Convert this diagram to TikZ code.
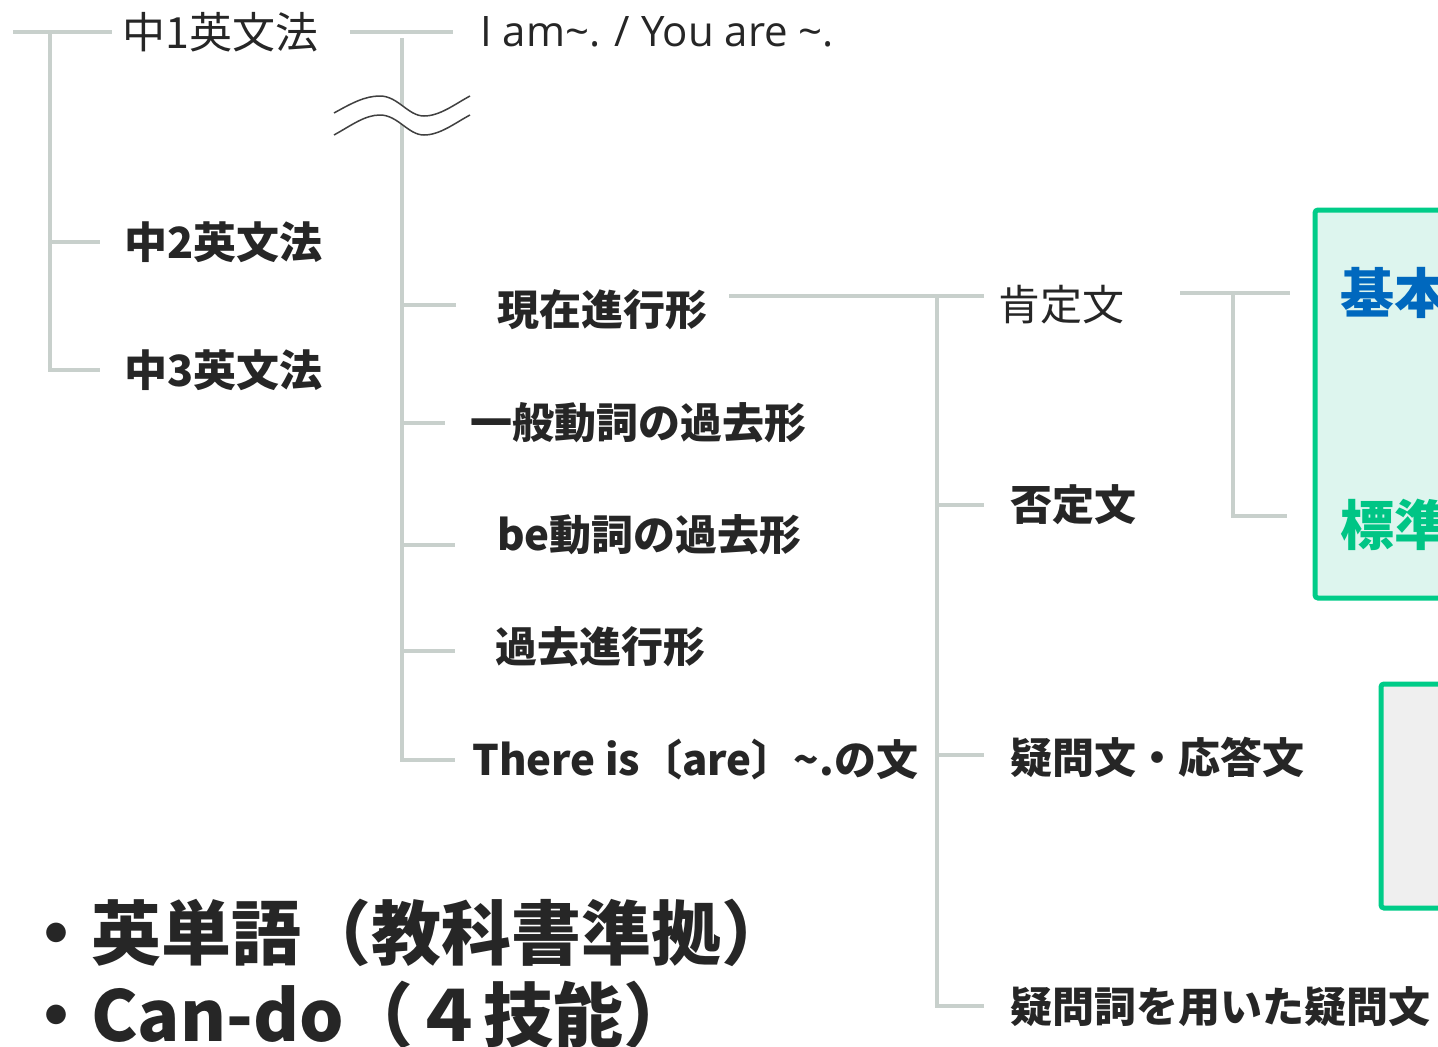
\documentclass[tikz,border=0pt]{standalone}
\usepackage{fontspec}
\setmainfont{Noto Sans CJK JP}
\newfontfamily\latfont{Open Sans}
\definecolor{ln}{HTML}{C8D0CC}
\definecolor{tx}{HTML}{262626}
\definecolor{gstroke}{HTML}{00CC88}
\definecolor{gfill}{HTML}{DDF5EE}
\definecolor{bl}{HTML}{0068BE}
\definecolor{gt}{HTML}{00C585}
\definecolor{grayfill}{HTML}{EFEFEF}
\tikzset{
  tree/.style={draw=ln, line width=4pt},
  lbl/.style={anchor=west, inner sep=0pt, text=tx, font=\fontsize{42}{50}\selectfont},
  lblb/.style={lbl, font=\fontsize{42}{50}\selectfont\bfseries},
  grade/.style={lbl, font=\fontsize{43}{50}\selectfont},
  big/.style={anchor=west, inner sep=0pt, text=tx, font=\fontsize{70}{80}\selectfont\bfseries},
  box/.style={draw=gstroke, line width=5pt, rounded corners=3pt},
}
\begin{document}
\begin{tikzpicture}[x=1pt,y=-1pt]
\useasboundingbox (0,0) rectangle (1438,1047);
\clip (0,0) rectangle (1438,1047);
\fill[white] (0,0) rectangle (1438,1047);

% boxes
\path[box, fill=gfill] (1315,210) rectangle (1470,598);
\path[box, fill=grayfill] (1381,684) rectangle (1470,908);

% text nodes
\node[grade] (t1) at (122,32) {中1英文法};
\node[grade, font=\fontsize{43}{50}\selectfont\bfseries] (t2) at (124,242) {中2英文法};
\node[grade, font=\fontsize{43}{50}\selectfont\bfseries] (t3) at (124,370) {中3英文法};
\node[lbl, font=\fontsize{42}{48}\latfont] (iam) at (480,32) {I am\char"007E. / You are \char"007E.};

\node[lblb] (g1) at (497,310) {現在進行形};
\node[lblb] (g2) at (470,423) {一般動詞の過去形};
\node[lblb] (g3) at (497,535) {be動詞の過去形};
\node[lblb] (g4) at (495,647) {過去進行形};
\node[lblb] (g5) at (472,760) {There is〔are〕\char"007E.の文};

\node[lbl] (s1) at (998,305) {肯定文};
\node[lblb] (s2) at (1010,505) {否定文};
\node[lblb] (s3) at (1010,757) {疑問文・応答文};
\node[lblb] (s4) at (1010,1007) {疑問詞を用いた疑問文};

\node[anchor=west, inner sep=0pt, text=bl, font=\fontsize{54}{60}\selectfont\bfseries] (b1) at (1340,293) {基本};
\node[anchor=west, inner sep=0pt, text=gt, font=\fontsize{54}{60}\selectfont\bfseries] (b2) at (1340,525) {標準};

\node[big] (w1) at (21,933) {・英単語（教科書準拠）};
\node[big] (w2) at (21,1015) {・Can-do（４技能）};

% tree 1 (grade levels)
\coordinate (a0) at (13,32);
\coordinate (a1) at (112,32);
\coordinate (aj) at (50,32);
\draw[tree] (a0) -- (a1);
\draw[tree] (aj) -- (50,370) -- ([xshift=-24pt]t3.west |- 50,370);
\draw[tree] (50,242) -- ([xshift=-24pt]t2.west |- 50,242);

% tree 2 (units)
\coordinate (b0) at (350,32);
\coordinate (b1e) at (453,32);
\coordinate (bj) at (402,38);
\draw[tree] (b0) -- (b1e);
\draw[tree] (bj) -- (402,760) -- ([xshift=-17pt]g5.west |- 402,760);
\draw[tree] (402,305) -- (456,305);
\draw[tree] (402,423) -- (445,423);
\draw[tree] (402,545) -- (455,545);
\draw[tree] (402,651) -- (455,651);

% tree 3 (sentence types)
\coordinate (c0) at (729,296);
\coordinate (c1) at (984,296);
\draw[tree] (c0) -- (c1);
\draw[tree] (937,296) -- (937,1006) -- ([xshift=-26pt]s4.west |- 937,1006);
\draw[tree] (937,505) -- (984,505);
\draw[tree] (937,755) -- (984,755);

% tree 4 (levels)
\coordinate (d0) at (1180,293);
\coordinate (d1) at (1290,293);
\draw[tree] (d0) -- (d1);
\draw[tree] (1233,293) -- (1233,516) -- (1287,516);

% wave break symbol
\fill[white] (334,113) .. controls (352,103) and (365,96) .. (380,96)
  .. controls (398,96) and (408,116) .. (424,116)
  .. controls (440,116) and (455,104) .. (470,96)
  -- (470,115)
  .. controls (455,123) and (440,135) .. (424,135)
  .. controls (408,135) and (398,115) .. (380,115)
  .. controls (365,115) and (352,125) .. (334,135) -- cycle;
\draw[draw=black!75, line width=1.5pt] (334,113) .. controls (352,103) and (365,96) .. (380,96)
  .. controls (398,96) and (408,116) .. (424,116)
  .. controls (440,116) and (455,104) .. (470,96);
\draw[draw=black!75, line width=1.5pt] (334,135) .. controls (352,125) and (365,115) .. (380,115)
  .. controls (398,115) and (408,135) .. (424,135)
  .. controls (440,135) and (455,123) .. (470,115);
\end{tikzpicture}
\end{document}
